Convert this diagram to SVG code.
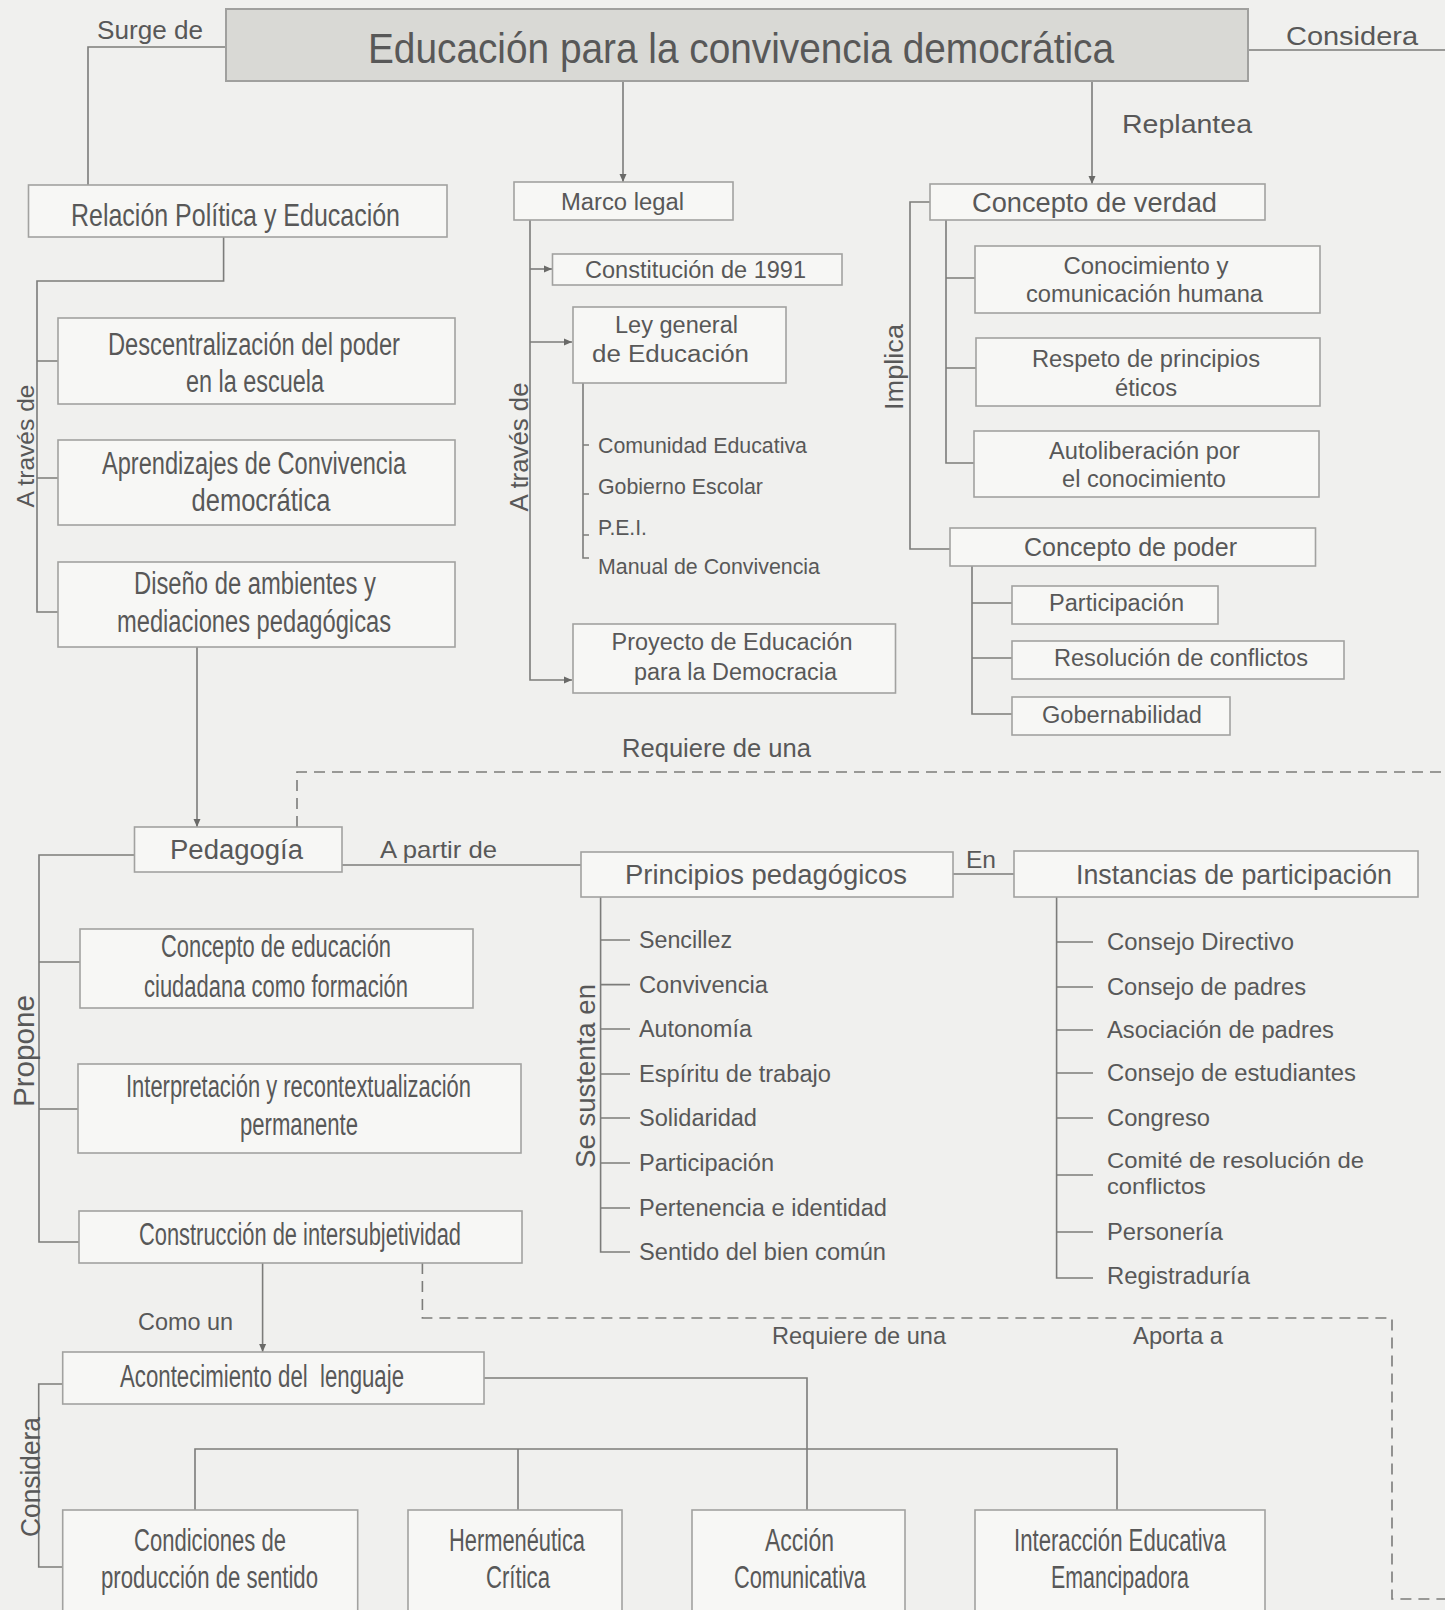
<svg xmlns="http://www.w3.org/2000/svg" width="1445" height="1610" viewBox="0 0 1445 1610">
<defs>
<style>
text{font-family:"Liberation Sans",Arial,sans-serif;fill:#585858}
.c{text-anchor:middle}
.box{fill:#f7f7f5;stroke:#a2a2a0;stroke-width:1.6}
.title{fill:#d9d9d5;stroke:#a0a09e;stroke-width:2}
.ln{fill:none;stroke:#7c7c7a;stroke-width:1.6}
.dash{fill:none;stroke:#7c7c7a;stroke-width:1.6;stroke-dasharray:11 7}
.big{font-size:31px}
.med{font-size:27px}
.sm{font-size:23.5px}
.li{font-size:23.5px}
.sub{font-size:21.5px}
</style>
<marker id="ah" viewBox="0 0 8 8" refX="8" refY="4" markerWidth="8" markerHeight="8" markerUnits="userSpaceOnUse" orient="auto">
<path d="M0,0.5 L8,4 L0,7.5 z" fill="#6a6a68"/>
</marker>
</defs>
<rect x="0" y="0" width="1445" height="1610" fill="#f0f0ee"/>

<g id="connectors">
<path class="ln" d="M226,47 H88 V185"/>
<path class="ln" d="M1248,50 H1445"/>
<path class="ln" d="M623,81 V182" marker-end="url(#ah)"/>
<path class="ln" d="M1092,81 V184" marker-end="url(#ah)"/>
<path class="ln" d="M223.6,237 V281 H37 V612 H58 M37,361 H58 M37,478 H58"/>
<path class="ln" d="M197,647 V827" marker-end="url(#ah)"/>
<path class="ln" d="M530,220 V680 H572" marker-end="url(#ah)"/>
<path class="ln" d="M530,269 H552" marker-end="url(#ah)"/>
<path class="ln" d="M530,342 H572" marker-end="url(#ah)"/>
<path class="ln" d="M583,383 V558 H589 M583,445 H589 M583,494 H589 M583,535 H589"/>
<path class="ln" d="M930,202 H910 V549 H950"/>
<path class="ln" d="M946,220 V463 H974 M946,278 H975 M946,368 H976"/>
<path class="ln" d="M972,566 V714 H1012 M972,603 H1012 M972,658 H1012"/>
<path class="ln" d="M342,865 H581"/>
<path class="ln" d="M953,874 H1014"/>
<path class="dash" d="M297,827 V772 H1445"/>
<path class="ln" d="M134.5,855 H39 V1242 H79 M39,962 H80 M39,1109 H78"/>
<path class="ln" d="M600.6,897 V1252 H630 M600.6,940 H630 M600.6,984.6 H630 M600.6,1029 H630 M600.6,1074 H630 M600.6,1118 H630 M600.6,1163 H630 M600.6,1208 H630"/>
<path class="ln" d="M1056.6,897 V1278 H1093 M1056.6,942 H1093 M1056.6,987 H1093 M1056.6,1030 H1093 M1056.6,1073 H1093 M1056.6,1118 H1093 M1056.6,1175 H1093 M1056.6,1232 H1093"/>
<path class="ln" d="M262.6,1263 V1352" marker-end="url(#ah)"/>
<path class="dash" d="M422.4,1263 V1318 H1392 V1599 H1445"/>
<path class="ln" d="M62.7,1384 H38.7 V1567 H62.7"/>
<path class="ln" d="M484,1378 H807 V1510 M195,1510 V1449 H1117 V1510 M518,1449 V1510"/>
</g>

<g id="labels">
<text x="97" y="39" font-size="25" textLength="106" lengthAdjust="spacingAndGlyphs">Surge de</text>
<text x="1286" y="45" font-size="26" textLength="132" lengthAdjust="spacingAndGlyphs">Considera</text>
<text x="1122" y="133" font-size="26" textLength="130" lengthAdjust="spacingAndGlyphs">Replantea</text>
<text x="380" y="858" font-size="24" textLength="117" lengthAdjust="spacingAndGlyphs">A partir de</text>
<text x="966" y="868" font-size="23" textLength="30" lengthAdjust="spacingAndGlyphs">En</text>
<text x="622" y="757" font-size="25" textLength="189" lengthAdjust="spacingAndGlyphs">Requiere de una</text>
<text x="772" y="1344" font-size="24" textLength="174" lengthAdjust="spacingAndGlyphs">Requiere de una</text>
<text x="1133" y="1344" font-size="24" textLength="90" lengthAdjust="spacingAndGlyphs">Aporta a</text>
<text x="138" y="1330" font-size="24" textLength="95" lengthAdjust="spacingAndGlyphs">Como un</text>
<text class="c" transform="translate(34,446) rotate(-90)" font-size="24" textLength="123" lengthAdjust="spacingAndGlyphs">A través de</text>
<text class="c" transform="translate(528,447) rotate(-90)" font-size="25" textLength="129" lengthAdjust="spacingAndGlyphs">A través de</text>
<text class="c" transform="translate(903,367) rotate(-90)" font-size="26" textLength="86" lengthAdjust="spacingAndGlyphs">Implica</text>
<text class="c" transform="translate(595,1076) rotate(-90)" font-size="27" textLength="184" lengthAdjust="spacingAndGlyphs">Se sustenta en</text>
<text class="c" transform="translate(34,1051) rotate(-90)" font-size="29" textLength="112" lengthAdjust="spacingAndGlyphs">Propone</text>
<text class="c" transform="translate(40,1477) rotate(-90)" font-size="27" textLength="120" lengthAdjust="spacingAndGlyphs">Considera</text>
</g>

<g id="n-title"><rect class="title" x="226" y="9" width="1022" height="72"/>
<text class="c" x="741" y="63" font-size="42" textLength="746" lengthAdjust="spacingAndGlyphs">Educación para la convivencia democrática</text></g>

<g id="n-relacion"><rect class="box" x="28.5" y="185" width="418.5" height="52"/>
<text class="c" x="235.5" y="226" font-size="32" textLength="329" lengthAdjust="spacingAndGlyphs">Relación Política y Educación</text></g>

<g id="n-descentralizacion"><rect class="box" x="58" y="318" width="397" height="86"/>
<text class="c big" x="254" y="355" textLength="292" lengthAdjust="spacingAndGlyphs">Descentralización del poder</text>
<text class="c big" x="255" y="392" textLength="138" lengthAdjust="spacingAndGlyphs">en la escuela</text></g>

<g id="n-aprendizajes"><rect class="box" x="58" y="440" width="397" height="85"/>
<text class="c big" x="254" y="474" textLength="304" lengthAdjust="spacingAndGlyphs">Aprendizajes de Convivencia</text>
<text class="c big" x="261" y="511" textLength="139" lengthAdjust="spacingAndGlyphs">democrática</text></g>

<g id="n-diseno"><rect class="box" x="58" y="562" width="397" height="85"/>
<text class="c big" x="255" y="594" textLength="242" lengthAdjust="spacingAndGlyphs">Diseño de ambientes y</text>
<text class="c big" x="254" y="632" textLength="274" lengthAdjust="spacingAndGlyphs">mediaciones pedagógicas</text></g>

<g id="n-marco"><rect class="box" x="514" y="182" width="219" height="38"/>
<text class="c sm" x="622.5" y="210" textLength="123" lengthAdjust="spacingAndGlyphs">Marco legal</text></g>

<g id="n-constitucion"><rect class="box" x="552.5" y="254" width="289.5" height="31"/>
<text class="c sm" x="695.5" y="278" textLength="221" lengthAdjust="spacingAndGlyphs">Constitución de 1991</text></g>

<g id="n-ley"><rect class="box" x="573" y="307" width="213" height="76"/>
<text class="c sm" x="676.5" y="333" textLength="123" lengthAdjust="spacingAndGlyphs">Ley general</text>
<text class="c sm" x="670.5" y="362" textLength="157" lengthAdjust="spacingAndGlyphs">de Educación</text></g>

<g id="n-ley-items">
<text class="sub" x="598" y="453" textLength="209" lengthAdjust="spacingAndGlyphs">Comunidad Educativa</text>
<text class="sub" x="598" y="494" textLength="165" lengthAdjust="spacingAndGlyphs">Gobierno Escolar</text>
<text class="sub" x="598" y="535" textLength="49" lengthAdjust="spacingAndGlyphs">P.E.I.</text>
<text class="sub" x="598" y="574" textLength="222" lengthAdjust="spacingAndGlyphs">Manual de Convivencia</text>
</g>

<g id="n-proyecto"><rect class="box" x="573" y="624" width="322.5" height="69"/>
<text class="c sm" x="732" y="650" textLength="241" lengthAdjust="spacingAndGlyphs">Proyecto de Educación</text>
<text class="c sm" x="735.5" y="680" textLength="203" lengthAdjust="spacingAndGlyphs">para la Democracia</text></g>

<g id="n-verdad"><rect class="box" x="930" y="184" width="335" height="36"/>
<text class="c med" x="1094.5" y="212" textLength="245" lengthAdjust="spacingAndGlyphs">Concepto de verdad</text></g>

<g id="n-conocimiento"><rect class="box" x="975" y="246" width="345" height="67"/>
<text class="c sm" x="1146" y="274" textLength="165" lengthAdjust="spacingAndGlyphs">Conocimiento y</text>
<text class="c sm" x="1144.5" y="302" textLength="237" lengthAdjust="spacingAndGlyphs">comunicación humana</text></g>

<g id="n-respeto"><rect class="box" x="976" y="338" width="344" height="68"/>
<text class="c sm" x="1146" y="367" textLength="228" lengthAdjust="spacingAndGlyphs">Respeto de principios</text>
<text class="c sm" x="1146" y="396" textLength="62" lengthAdjust="spacingAndGlyphs">éticos</text></g>

<g id="n-autoliberacion"><rect class="box" x="974" y="431" width="345" height="66"/>
<text class="c sm" x="1144.5" y="459" textLength="191" lengthAdjust="spacingAndGlyphs">Autoliberación por</text>
<text class="c sm" x="1144" y="487" textLength="164" lengthAdjust="spacingAndGlyphs">el conocimiento</text></g>

<g id="n-poder"><rect class="box" x="950" y="528" width="365.5" height="38"/>
<text class="c" x="1130.5" y="556" font-size="25.5" textLength="213" lengthAdjust="spacingAndGlyphs">Concepto de poder</text></g>

<g id="n-participacion"><rect class="box" x="1012" y="586" width="206" height="38"/>
<text class="c sm" x="1116.5" y="611" textLength="135" lengthAdjust="spacingAndGlyphs">Participación</text></g>

<g id="n-resolucion"><rect class="box" x="1012" y="641" width="332" height="38"/>
<text class="c sm" x="1181" y="666" textLength="254" lengthAdjust="spacingAndGlyphs">Resolución de conflictos</text></g>

<g id="n-gobernabilidad"><rect class="box" x="1012" y="697" width="218" height="38"/>
<text class="c sm" x="1122" y="723" textLength="160" lengthAdjust="spacingAndGlyphs">Gobernabilidad</text></g>

<g id="n-pedagogia"><rect class="box" x="134.5" y="827" width="207.5" height="45"/>
<text class="c med" x="236.5" y="859" textLength="133" lengthAdjust="spacingAndGlyphs">Pedagogía</text></g>

<g id="n-principios"><rect class="box" x="581" y="852" width="372" height="45"/>
<text class="c med" x="766" y="884" textLength="282" lengthAdjust="spacingAndGlyphs">Principios pedagógicos</text></g>

<g id="n-instancias"><rect class="box" x="1014" y="851" width="404" height="46"/>
<text class="c med" x="1234" y="884" textLength="316" lengthAdjust="spacingAndGlyphs">Instancias de participación</text></g>

<g id="n-principios-items">
<text class="li" x="639" y="948" textLength="93" lengthAdjust="spacingAndGlyphs">Sencillez</text>
<text class="li" x="639" y="992.6" textLength="129" lengthAdjust="spacingAndGlyphs">Convivencia</text>
<text class="li" x="639" y="1037" textLength="113" lengthAdjust="spacingAndGlyphs">Autonomía</text>
<text class="li" x="639" y="1082" textLength="192" lengthAdjust="spacingAndGlyphs">Espíritu de trabajo</text>
<text class="li" x="639" y="1126" textLength="118" lengthAdjust="spacingAndGlyphs">Solidaridad</text>
<text class="li" x="639" y="1171" textLength="135" lengthAdjust="spacingAndGlyphs">Participación</text>
<text class="li" x="639" y="1216" textLength="248" lengthAdjust="spacingAndGlyphs">Pertenencia e identidad</text>
<text class="li" x="639" y="1260" textLength="247" lengthAdjust="spacingAndGlyphs">Sentido del bien común</text>
</g>

<g id="n-instancias-items">
<text class="li" x="1107" y="950" textLength="187" lengthAdjust="spacingAndGlyphs">Consejo Directivo</text>
<text class="li" x="1107" y="995" textLength="199" lengthAdjust="spacingAndGlyphs">Consejo de padres</text>
<text class="li" x="1107" y="1038" textLength="227" lengthAdjust="spacingAndGlyphs">Asociación de padres</text>
<text class="li" x="1107" y="1081" textLength="249" lengthAdjust="spacingAndGlyphs">Consejo de estudiantes</text>
<text class="li" x="1107" y="1126" textLength="103" lengthAdjust="spacingAndGlyphs">Congreso</text>
<text x="1107" y="1168" font-size="22" textLength="257" lengthAdjust="spacingAndGlyphs">Comité de resolución de</text>
<text x="1107" y="1194" font-size="22" textLength="99" lengthAdjust="spacingAndGlyphs">conflictos</text>
<text class="li" x="1107" y="1240" textLength="116" lengthAdjust="spacingAndGlyphs">Personería</text>
<text class="li" x="1107" y="1284" textLength="143" lengthAdjust="spacingAndGlyphs">Registraduría</text>
</g>

<g id="n-concepto-educacion"><rect class="box" x="80" y="929" width="393" height="79"/>
<text class="c big" x="276" y="957" textLength="230" lengthAdjust="spacingAndGlyphs">Concepto de educación</text>
<text class="c big" x="276" y="997" textLength="264" lengthAdjust="spacingAndGlyphs">ciudadana como formación</text></g>

<g id="n-interpretacion"><rect class="box" x="78" y="1064" width="443" height="89"/>
<text class="c big" x="298.5" y="1097" textLength="345" lengthAdjust="spacingAndGlyphs">Interpretación y recontextualización</text>
<text class="c big" x="299" y="1135" textLength="118" lengthAdjust="spacingAndGlyphs">permanente</text></g>

<g id="n-construccion"><rect class="box" x="79" y="1211" width="443" height="52"/>
<text class="c big" x="300" y="1245" textLength="322" lengthAdjust="spacingAndGlyphs">Construcción de intersubjetividad</text></g>

<g id="n-acontecimiento"><rect class="box" x="62.7" y="1352" width="421.3" height="52"/>
<text class="c big" x="262" y="1387" textLength="284" lengthAdjust="spacingAndGlyphs" xml:space="preserve">Acontecimiento del  lenguaje</text></g>

<g id="n-condiciones"><rect class="box" x="62.7" y="1510" width="295" height="110"/>
<text class="c big" x="210" y="1551" textLength="152" lengthAdjust="spacingAndGlyphs">Condiciones de</text>
<text class="c big" x="209.5" y="1588" textLength="217" lengthAdjust="spacingAndGlyphs">producción de sentido</text></g>

<g id="n-hermeneutica"><rect class="box" x="408" y="1510" width="214" height="110"/>
<text class="c big" x="517" y="1551" textLength="136" lengthAdjust="spacingAndGlyphs">Hermenéutica</text>
<text class="c big" x="518" y="1588" textLength="64" lengthAdjust="spacingAndGlyphs">Crítica</text></g>

<g id="n-accion"><rect class="box" x="692" y="1510" width="213" height="110"/>
<text class="c big" x="799.5" y="1551" textLength="69" lengthAdjust="spacingAndGlyphs">Acción</text>
<text class="c big" x="800" y="1588" textLength="132" lengthAdjust="spacingAndGlyphs">Comunicativa</text></g>

<g id="n-interaccion"><rect class="box" x="975" y="1510" width="290" height="110"/>
<text class="c big" x="1120" y="1551" textLength="212" lengthAdjust="spacingAndGlyphs">Interacción Educativa</text>
<text class="c big" x="1120" y="1588" textLength="138" lengthAdjust="spacingAndGlyphs">Emancipadora</text></g>
</svg>
